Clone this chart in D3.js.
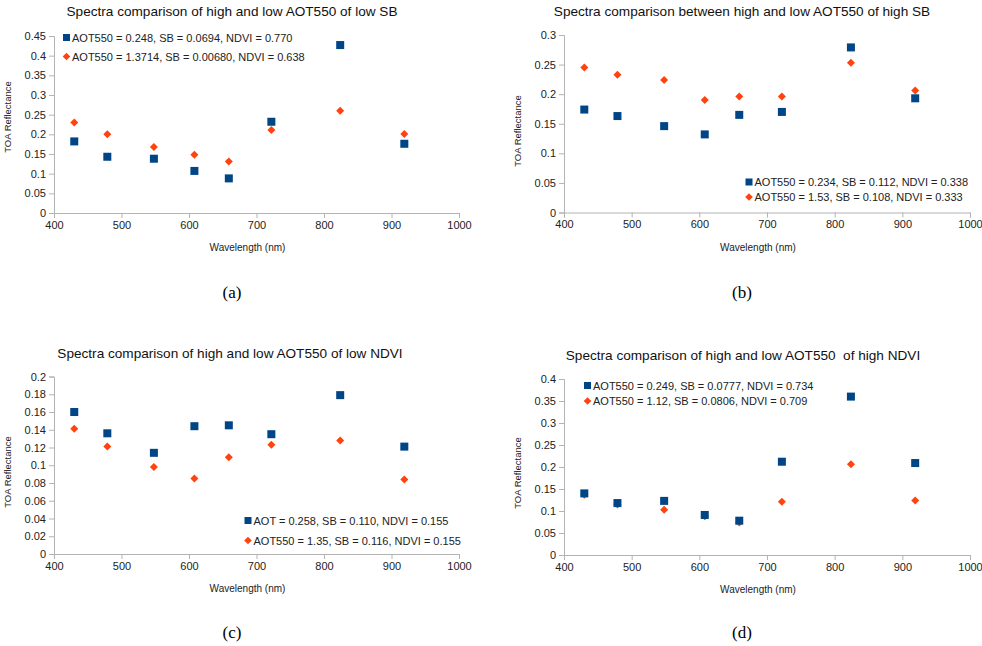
<!DOCTYPE html>
<html>
<head>
<meta charset="utf-8">
<script src="https://cdn.jsdelivr.net/npm/d3@7"></script>
<style>
  body { margin: 0; background: #fff; }
  text { font-family: "Liberation Sans", Arial, sans-serif; }
</style>
</head>
<body>
<div id="mainContainer"></div>
<script>
// wavelengths of the bands (nm)
var wavelengths = [430, 479, 548, 608, 659, 722, 824, 919];

// (a) low SB
var lowSBLowAot  = [0.182, 0.143, 0.138, 0.107, 0.088, 0.232, 0.427, 0.176];
var lowSBHighAot = [0.230, 0.200, 0.168, 0.148, 0.131, 0.211, 0.260, 0.201];
// (b) high SB
var highSBLowAot  = [0.174, 0.163, 0.146, 0.132, 0.165, 0.170, 0.279, 0.193];
var highSBHighAot = [0.245, 0.233, 0.224, 0.190, 0.196, 0.196, 0.253, 0.206];
// (c) low NDVI
var lowNdviLowAot  = [0.160, 0.136, 0.114, 0.144, 0.145, 0.135, 0.179, 0.121];
var lowNdviHighAot = [0.141, 0.121, 0.098, 0.085, 0.109, 0.123, 0.128, 0.084];
// (d) high NDVI
var highNdviLowAot  = [0.140, 0.118, 0.123, 0.091, 0.078, 0.212, 0.360, 0.209];
var highNdviHighAot = [0.137, 0.115, 0.103, 0.088, 0.074, 0.121, 0.206, 0.124];

var titles = [
  "Spectra comparison of high and low AOT550 of low SB",
  "Spectra comparison between high and low AOT550 of high SB",
  "Spectra comparison of high and low AOT550 of low NDVI",
  "Spectra comparison of high and low AOT550  of high NDVI"
];
var legendLabels = [
  ["AOT550 = 0.248, SB = 0.0694, NDVI = 0.770", "AOT550 = 1.3714, SB = 0.00680, NDVI = 0.638"],
  ["AOT550 = 0.234, SB = 0.112, NDVI = 0.338", "AOT550 = 1.53, SB = 0.108, NDVI = 0.333"],
  ["AOT = 0.258, SB = 0.110, NDVI = 0.155", "AOT550 = 1.35, SB = 0.116, NDVI = 0.155"],
  ["AOT550 = 0.249, SB = 0.0777, NDVI = 0.734", "AOT550 = 1.12, SB = 0.0806, NDVI = 0.709"]
];
var captions = ["(a)", "(b)", "(c)", "(d)"];
var yMaxes = [0.45, 0.3, 0.2, 0.4];
var yStepsList = [0.05, 0.05, 0.02, 0.05];
var xTicks = [400, 500, 600, 700, 800, 900, 1000];

var blue = "#004586", orange = "#ff420e";

var svg = d3.select('#mainContainer').append('svg')
    .attr('width', 982)
    .attr('height', 646);

// layout of each panel
var panels = [
  { low: lowSBLowAot, high: lowSBHighAot, x0: 54, x1: 459, top: 36, bottom: 213,
    titleX: 232, titleY: 16, yLabX: 8, yLabY: 117, legX: 66.5, legY: 37.5, legGap: 19, cap: [232, 298] },
  { low: highSBLowAot, high: highSBHighAot, x0: 564, x1: 970, top: 35, bottom: 212.5,
    titleX: 742, titleY: 16, yLabX: 518, yLabY: 131, legX: 749, legY: 182, legGap: 15, cap: [742, 298] },
  { low: lowNdviLowAot, high: lowNdviHighAot, x0: 54, x1: 459, top: 376.5, bottom: 554,
    titleX: 230, titleY: 358, yLabX: 8, yLabY: 472, legX: 248, legY: 520.5, legGap: 20, cap: [232, 638] },
  { low: highNdviLowAot, high: highNdviHighAot, x0: 564, x1: 970, top: 379, bottom: 555,
    titleX: 743, titleY: 360, yLabX: 518, yLabY: 473, legX: 587.5, legY: 385.5, legGap: 15.5, cap: [742, 638] }
];

var diamond = function(r){
  return "M0," + (-r) + "L" + r + ",0L0," + r + "L" + (-r) + ",0Z";
};

panels.forEach(function(p, idx){
  var g = svg.append('g');

  var xscale = d3.scaleLinear()
      .domain([400, 1000])
      .range([p.x0, p.x1]);
  var yscale = d3.scaleLinear()
      .domain([0, yMaxes[idx]])
      .range([p.bottom, p.top]);
  var yTicks = d3.range(0, yMaxes[idx] + 1e-9, yStepsList[idx]);

  var xAxis = g.append("g")
      .attr("transform", "translate(0," + p.bottom + ")")
      .call(d3.axisBottom(xscale).tickValues(xTicks).tickSize(5).tickPadding(3).tickFormat(d3.format("d")));
  var yAxis = g.append("g")
      .attr("transform", "translate(" + p.x0 + ",0)")
      .call(d3.axisLeft(yscale).tickValues(yTicks).tickSize(5).tickPadding(3).tickFormat(d3.format(".2~f")));
  [xAxis, yAxis].forEach(function(a){
    a.select(".domain").attr("stroke", "#b3b3b3");
    a.selectAll(".tick line").attr("stroke", "#b3b3b3");
    a.selectAll(".tick text")
      .attr("fill", "#222")
      .attr("font-size", "11px");
  });

  g.append("text")
    .attr("x", p.titleX)
    .attr("y", p.titleY)
    .attr("text-anchor", "middle")
    .attr("font-size", "13.6px")
    .attr("fill", "#111")
    .style("white-space", "pre")
    .text(titles[idx]);

  g.append("text")
    .attr("x", (p.x0 + p.x1) / 2 - 9)
    .attr("y", p.bottom + 38)
    .attr("text-anchor", "middle")
    .attr("font-size", "10px")
    .attr("fill", "#222")
    .text("Wavelength (nm)");

  g.append("text")
    .attr("transform", "translate(" + (p.yLabX + 3) + "," + p.yLabY + ") rotate(-90)")
    .attr("text-anchor", "middle")
    .attr("font-size", "9.5px")
    .attr("fill", "#222")
    .text("TOA Reflectance");

  // points: high AOT (diamonds) first, low AOT (squares) on top
  g.append('g')
    .selectAll("path")
    .data(p.high)
    .enter()
    .append("path")
    .attr("d", diamond(4))
    .attr("transform", function(d, i){ return "translate(" + xscale(wavelengths[i]) + "," + yscale(d) + ")"; })
    .style("fill", orange);

  g.append('g')
    .selectAll("rect")
    .data(p.low)
    .enter()
    .append("rect")
    .attr("x", function(d, i){ return xscale(wavelengths[i]) - 4; })
    .attr("y", function(d){ return yscale(d) - 4; })
    .attr("width", 8)
    .attr("height", 8)
    .style("fill", blue);

  // legend
  var leg = g.append("g");
  leg.append("rect")
    .attr("x", p.legX - 3.5).attr("y", p.legY - 3.5)
    .attr("width", 7).attr("height", 7)
    .style("fill", blue);
  leg.append("path")
    .attr("d", diamond(3.8))
    .attr("transform", "translate(" + p.legX + "," + (p.legY + p.legGap) + ")")
    .style("fill", orange);
  legendLabels[idx].forEach(function(lab, k){
    leg.append("text")
      .attr("x", p.legX + 5.5)
      .attr("y", p.legY + k * p.legGap + 4)
      .attr("font-size", "11px")
      .attr("fill", "#222")
      .text(lab);
  });

  svg.append("text")
    .attr("x", p.cap[0])
    .attr("y", p.cap[1])
    .attr("text-anchor", "middle")
    .style("font-family", "'Liberation Serif', 'Times New Roman', serif")
    .attr("font-size", "17px")
    .attr("fill", "#000")
    .text(captions[idx]);
});
</script>
</body>
</html>
